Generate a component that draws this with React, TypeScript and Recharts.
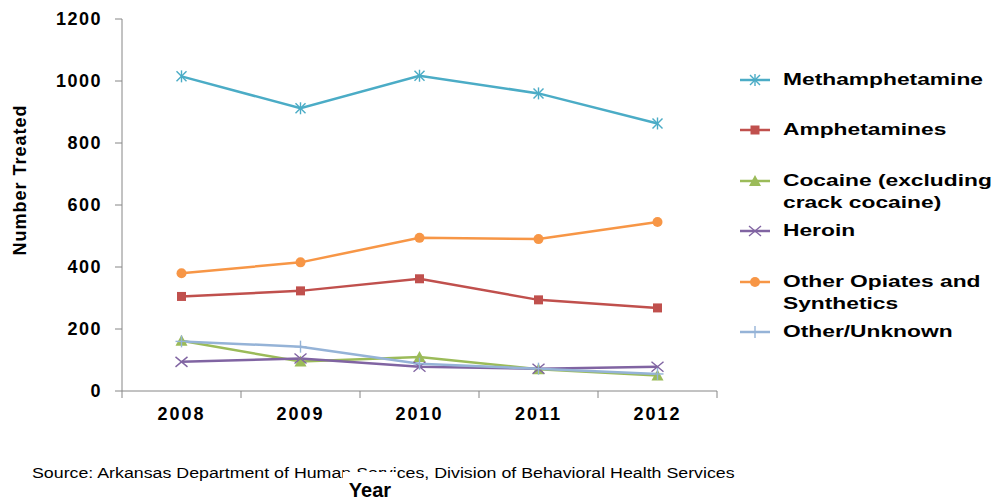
import React from 'react';
import { LineChart, Line, XAxis, YAxis } from 'recharts';

const years = [2008, 2009, 2010, 2011, 2012];
const methamphetamine = [1015, 912, 1017, 960, 863];
const amphetamines = [305, 323, 362, 294, 268];
const cocaine = [162, 95, 110, 70, 50];
const heroin = [94, 105, 78, 72, 78];
const otherOpiates = [380, 415, 494, 490, 545];
const otherUnknown = [160, 143, 88, 72, 55];
const yTicks = [0, 200, 400, 600, 800, 1000, 1200];

const FONT = '"Liberation Sans", Arial, sans-serif';
const AXIS = '#868686';

type Shape = 'asterisk' | 'square' | 'triangle' | 'cross' | 'circle' | 'plus';

const series: { key: string; name: string; color: string; shape: Shape; values: number[] }[] = [
  { key: 'meth', name: 'Methamphetamine', color: '#4BACC6', shape: 'asterisk', values: methamphetamine },
  { key: 'amph', name: 'Amphetamines', color: '#C0504D', shape: 'square', values: amphetamines },
  { key: 'coca', name: 'Cocaine (excluding\ncrack cocaine)', color: '#9BBB59', shape: 'triangle', values: cocaine },
  { key: 'hero', name: 'Heroin', color: '#8064A2', shape: 'cross', values: heroin },
  { key: 'opia', name: 'Other Opiates and\nSynthetics', color: '#F79646', shape: 'circle', values: otherOpiates },
  { key: 'unkn', name: 'Other/Unknown', color: '#95B3D7', shape: 'plus', values: otherUnknown },
];

const data = years.map((year, i) => {
  const row: Record<string, number> = { year };
  series.forEach((s) => (row[s.key] = s.values[i]));
  return row;
});

// category boundaries get tick marks, category centres get labels
const boundaries = [...years.map((y) => y - 0.5), years[years.length - 1] + 0.5];
const xTicks = [...boundaries, ...years].sort((a, b) => a - b);

function marker(shape: Shape, cx: number, cy: number, color: string) {
  switch (shape) {
    case 'asterisk':
      return (
        <g stroke={color} strokeWidth={1.4}>
          <line x1={cx - 5} y1={cy - 5} x2={cx + 5} y2={cy + 5} />
          <line x1={cx - 5} y1={cy + 5} x2={cx + 5} y2={cy - 5} />
          <line x1={cx} y1={cy - 6} x2={cx} y2={cy + 6} />
        </g>
      );
    case 'square':
      return <rect x={cx - 4.5} y={cy - 4.5} width={9} height={9} fill={color} />;
    case 'triangle':
      return <polygon points={`${cx},${cy - 6} ${cx - 6},${cy + 5} ${cx + 6},${cy + 5}`} fill={color} />;
    case 'cross':
      return (
        <g stroke={color} strokeWidth={1.4}>
          <line x1={cx - 6} y1={cy - 5} x2={cx + 6} y2={cy + 5} />
          <line x1={cx - 6} y1={cy + 5} x2={cx + 6} y2={cy - 5} />
        </g>
      );
    case 'circle':
      return <circle cx={cx} cy={cy} r={5} fill={color} />;
    case 'plus':
      return (
        <g stroke={color} strokeWidth={1.4}>
          <line x1={cx} y1={cy - 6} x2={cx} y2={cy + 6} />
          <line x1={cx - 6} y1={cy} x2={cx + 6} y2={cy} />
        </g>
      );
  }
}

const makeDot = (shape: Shape, color: string) => (props: any) => {
  const { cx, cy, index } = props;
  if (cx == null || cy == null) return <g key={index} />;
  return <g key={index}>{marker(shape, cx, cy, color)}</g>;
};

const XTick = (props: any) => {
  const { x, y, payload } = props;
  const v = payload.value as number;
  if (!Number.isInteger(v)) {
    return <line x1={x} y1={y} x2={x} y2={y + 7} stroke={AXIS} />;
  }
  return (
    <text
      x={x}
      y={y + 16}
      dy="0.71em"
      textAnchor="middle"
      fill="#000"
      fontFamily={FONT}
      fontSize={18}
      fontWeight={700}
      letterSpacing={2}
    >
      {v}
    </text>
  );
};

const YTitle = () => (
  <text
    x={20}
    y={180}
    transform="rotate(-90 20 180)"
    textAnchor="middle"
    dominantBaseline="central"
    fontFamily={FONT}
    fontSize={18}
    fontWeight={700}
    letterSpacing={1}
    fill="#000"
  >
    Number Treated
  </text>
);

const Legend = () => (
  <div style={{ position: 'absolute', left: 740, top: 69, fontFamily: FONT }}>
    {series.map((s) => (
      <div key={s.key} style={{ display: 'flex', alignItems: 'flex-start', height: 50.4 }}>
        <svg width={30} height={22} style={{ flex: 'none' }}>
          <line x1={0} y1={11} x2={30} y2={11} stroke={s.color} strokeWidth={2.5} />
          {marker(s.shape, 15, 11, s.color)}
        </svg>
        <div
          style={{
            marginLeft: 13,
            fontSize: 17,
            fontWeight: 700,
            lineHeight: '22px',
            whiteSpace: 'pre',
            transform: 'scaleX(1.34)',
            transformOrigin: 'left center',
            color: '#000',
          }}
        >
          {s.name}
        </div>
      </div>
    ))}
  </div>
);

export default function App() {
  return (
    <div style={{ position: 'absolute', left: 0, top: 0, width: 995, height: 502, background: '#fff', overflow: 'hidden' }}>
      <LineChart width={995} height={502} data={data} margin={{ top: 19, right: 278, bottom: 71, left: 0 }}>
        <XAxis
          dataKey="year"
          type="number"
          domain={[boundaries[0], boundaries[boundaries.length - 1]]}
          ticks={xTicks}
          interval={0}
          tickSize={0}
          tickMargin={0}
          tickLine={false}
          axisLine={{ stroke: AXIS }}
          height={40}
          tick={<XTick />}
        />
        <YAxis
          type="number"
          domain={[0, 1200]}
          ticks={yTicks}
          width={122}
          tickSize={7}
          tickMargin={13}
          axisLine={{ stroke: AXIS }}
          tickLine={{ stroke: AXIS }}
          tick={{ fill: '#000', fontSize: 18, fontWeight: 700, fontFamily: FONT, letterSpacing: 1.5 }}
          label={{ content: () => <YTitle /> }}
        />
        {series.map((s) => (
          <Line
            key={s.key}
            type="linear"
            dataKey={s.key}
            name={s.name}
            stroke={s.color}
            strokeWidth={2.5}
            dot={makeDot(s.shape, s.color)}
            activeDot={false}
            isAnimationActive={false}
          />
        ))}
      </LineChart>
      <Legend />
      <div
        style={{
          position: 'absolute',
          left: 32,
          top: 466,
          fontFamily: FONT,
          fontSize: 14,
          lineHeight: '14px',
          whiteSpace: 'nowrap',
          transform: 'scaleX(1.27)',
          transformOrigin: 'left center',
          color: '#000',
        }}
      >
        Source: Arkansas Department of Human Services, Division of Behavioral Health Services
      </div>
      <div
        style={{
          position: 'absolute',
          left: 343,
          top: 472,
          width: 54,
          paddingTop: 7,
          background: '#fff',
          textAlign: 'center',
          fontFamily: FONT,
          fontSize: 20,
          fontWeight: 700,
          lineHeight: '22px',
          color: '#000',
        }}
      >
        Year
      </div>
    </div>
  );
}
